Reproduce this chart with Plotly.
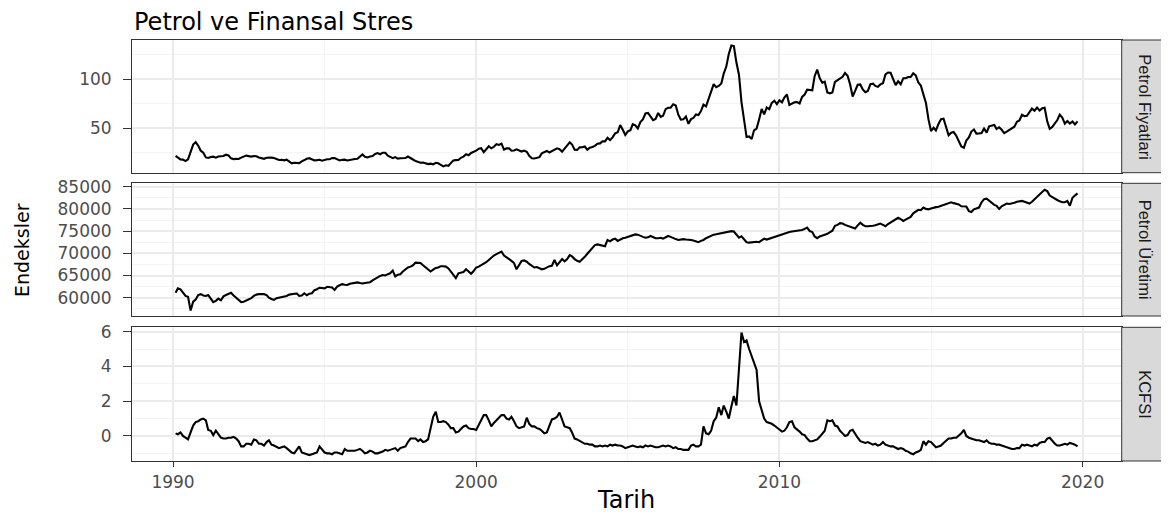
import pandas as pd
import plotly.graph_objects as go

# ---------------- data (monthly, Feb 1990 - Nov 2019) ----------------
start_month = "1990-02-01"
end_month = "2019-11-01"

petrol_fiyatlari = [
    22.11, 20.39, 18.43, 18.20, 16.70, 18.45, 27.31, 33.51, 36.04, 32.33, 27.28,            # 1990
    25.23, 20.48, 19.90, 20.83, 21.23, 20.19, 21.40, 21.69, 21.89, 23.23, 22.46, 19.50,     # 1991
    18.79, 19.01, 18.92, 20.23, 20.98, 22.39, 21.78, 21.34, 21.88, 21.69, 20.34, 19.41,     # 1992
    19.03, 20.09, 20.32, 20.25, 19.95, 19.09, 17.89, 18.01, 17.50, 18.15, 16.61, 14.52,     # 1993
    15.03, 14.78, 14.68, 16.42, 17.89, 19.06, 19.66, 18.38, 17.45, 17.72, 18.07, 17.16,     # 1994
    18.04, 18.57, 18.54, 19.90, 19.74, 18.45, 17.33, 18.02, 18.23, 17.43, 17.99, 19.03,     # 1995
    18.85, 19.09, 21.33, 23.50, 21.17, 20.42, 21.30, 21.90, 23.97, 24.88, 23.71, 25.23,     # 1996
    25.13, 22.18, 20.97, 19.70, 20.82, 19.26, 19.66, 19.95, 19.80, 21.33, 20.19, 18.33,     # 1997
    16.72, 16.06, 15.12, 15.35, 14.91, 13.72, 14.17, 13.47, 15.03, 14.46, 13.00, 11.35,     # 1998
    12.52, 12.01, 14.68, 17.31, 17.72, 17.92, 20.10, 21.28, 23.80, 22.69, 25.00, 26.10,     # 1999
    27.26, 29.37, 29.84, 25.72, 28.79, 31.82, 29.70, 31.26, 33.88, 33.11, 34.42, 28.44,     # 2000
    29.59, 29.61, 27.24, 27.49, 28.63, 27.60, 26.43, 27.37, 26.20, 22.17, 19.64, 19.39,     # 2001
    19.72, 20.72, 24.53, 26.18, 27.04, 25.52, 26.97, 28.39, 29.66, 28.84, 26.35, 29.46,     # 2002
    32.95, 35.83, 33.51, 28.17, 28.11, 30.66, 30.75, 31.57, 28.31, 30.34, 31.11, 32.13,     # 2003
    34.31, 34.69, 36.74, 36.75, 40.28, 38.03, 40.78, 44.90, 45.94, 53.28, 48.47, 43.15,     # 2004
    46.84, 48.15, 54.19, 52.98, 49.83, 56.35, 59.00, 64.99, 65.59, 62.26, 58.32, 59.41,     # 2005
    65.49, 61.63, 62.69, 69.44, 70.84, 70.95, 74.41, 73.04, 63.80, 58.89, 59.08, 61.96,     # 2006
    54.51, 59.28, 60.44, 63.98, 63.46, 67.49, 74.12, 72.36, 79.92, 85.80, 94.77, 91.69,     # 2007
    92.97, 95.39, 105.45, 112.58, 125.40, 133.88, 133.37, 116.67, 104.11, 76.61, 57.31, 41.12,  # 2008
    41.71, 39.09, 47.94, 49.65, 59.03, 69.64, 64.15, 71.05, 69.41, 75.72, 77.99, 74.47,     # 2009
    78.33, 76.39, 81.20, 84.29, 73.74, 75.34, 76.32, 76.60, 75.24, 81.89, 84.25, 89.15,     # 2010
    89.17, 88.58, 102.86, 109.53, 100.90, 96.26, 97.30, 86.33, 85.52, 86.32, 97.16, 98.56,  # 2011
    100.27, 102.20, 106.16, 103.32, 94.66, 82.30, 87.90, 94.13, 94.51, 89.49, 86.53, 87.86, # 2012
    94.76, 95.31, 92.94, 92.02, 94.51, 95.77, 104.67, 106.57, 106.29, 100.54, 93.86, 97.63, # 2013
    94.62, 100.82, 100.80, 102.07, 102.18, 105.79, 103.59, 96.54, 93.21, 84.40, 75.79, 59.29,  # 2014
    47.22, 50.58, 47.82, 54.45, 59.27, 59.82, 50.90, 42.87, 45.48, 46.22, 42.44, 37.19,     # 2015
    31.68, 30.32, 37.55, 40.75, 46.71, 48.76, 44.65, 44.72, 45.18, 49.78, 45.66, 51.97,     # 2016
    52.50, 53.47, 49.33, 51.06, 48.48, 45.18, 46.63, 48.04, 49.82, 51.58, 56.64, 57.88,     # 2017
    63.70, 62.23, 62.73, 66.25, 69.98, 67.87, 70.98, 68.06, 70.23, 70.75, 56.96, 49.52,     # 2018
    51.38, 54.95, 58.15, 63.86, 60.83, 54.66, 57.35, 54.81, 56.95, 53.96, 57.03,            # 2019
]

petrol_uretimi = [
    61100, 62100, 61900, 61100, 60400, 60200, 57100, 59100, 59600, 60600, 60800,           # 1990
    60500, 60400, 60600, 59700, 59000, 59300, 59800, 59400, 60300, 60600, 60800, 61100,    # 1991
    60500, 60000, 59700, 59000, 59100, 59400, 59700, 59900, 60400, 60700, 60800, 60800,    # 1992
    60800, 60600, 60000, 59700, 59500, 59900, 60000, 60100, 60200, 60400, 60700, 60850,    # 1993
    60900, 60950, 60400, 60500, 61000, 60550, 60900, 61000, 61700, 61900, 62250, 62200,    # 1994
    62100, 62450, 62400, 62300, 61750, 62500, 62800, 63050, 62900, 62850, 63150, 63250,    # 1995
    63300, 63450, 63300, 63200, 63300, 63400, 63500, 63900, 64300, 64700, 64900, 65100,    # 1996
    65000, 65300, 65500, 66100, 64800, 65200, 65300, 65900, 66400, 66800, 67000, 67300,    # 1997
    67900, 67900, 67800, 67300, 66900, 66300, 65900, 66300, 66700, 66800, 67100, 67100,    # 1998
    67000, 66600, 65900, 65200, 64400, 65500, 65700, 65800, 66400, 66000, 65400, 66000,    # 1999
    66800, 67000, 67300, 67700, 68000, 68500, 69100, 69500, 69800, 70100, 70400, 69500,    # 2000
    69000, 68700, 68300, 67800, 66400, 67500, 68300, 68400, 68100, 67600, 67200, 66800,    # 2001
    66900, 66700, 66400, 66500, 66800, 67100, 67200, 68500, 67300, 68000, 68700, 68200,    # 2002
    68700, 69600, 69300, 68700, 68300, 68100, 68600, 69200, 69900, 70600, 71300, 71850,    # 2003
    72000, 71900, 71800, 71600, 73000, 72700, 73100, 73300, 72800, 73100, 73400, 73500,    # 2004
    73700, 73900, 74100, 74250, 74200, 73900, 73700, 73500, 73600, 73900, 73700, 73400,    # 2005
    73400, 73500, 73300, 73600, 73900, 73700, 73400, 73200, 73000, 73100, 73200, 73100,    # 2006
    73100, 73000, 72900, 72700, 72500, 72800, 73000, 73400, 73700, 74000, 74200, 74300,    # 2007
    74400, 74500, 74600, 74700, 74800, 75000, 74900, 74200, 73500, 73800, 73200, 72500,    # 2008
    72400, 72500, 72600, 72600, 72500, 72900, 73300, 73100, 73300, 73500, 73700, 73900,    # 2009
    74200, 74400, 74500, 74700, 74800, 74900, 75000, 75000, 75150, 75250, 75500, 75800,    # 2010
    75000, 74800, 73800, 73400, 73800, 74100, 74200, 74400, 74800, 75100, 76200, 76400,    # 2011
    76800, 76700, 76400, 76200, 76100, 75800, 75600, 76300, 76900, 76400, 76100, 76100,    # 2012
    76100, 76200, 76300, 76500, 76700, 76400, 76100, 76600, 77000, 77400, 77700, 78000,    # 2013
    77700, 77300, 77600, 77900, 78200, 79000, 79500, 79800, 79700, 80300, 80000, 79900,    # 2014
    80100, 80300, 80400, 80500, 80700, 81000, 81200, 81400, 81500, 81300, 81200, 81000,    # 2015
    80600, 80500, 80550, 79500, 79300, 79900, 80100, 80300, 81500, 82200, 82300, 81800,    # 2016
    81300, 80900, 80700, 80000, 80600, 81000, 81200, 81100, 81200, 81400, 81600, 81700,    # 2017
    81800, 81600, 81400, 81200, 81600, 82200, 82700, 83200, 83800, 84300, 84000, 83000,    # 2018
    82600, 82300, 82000, 81700, 81500, 81500, 81800, 80700, 82500, 83000, 83500,           # 2019
]

kcfsi = [
    0.15, 0.10, 0.20, 0.00, -0.10, -0.20, 0.20, 0.60, 0.80, 0.85, 0.95,                    # 1990
    1.00, 0.90, 0.35, 0.30, 0.05, 0.30, 0.10, -0.10, -0.15, -0.15, -0.10, -0.10,           # 1991
    -0.05, -0.15, -0.30, -0.60, -0.60, -0.45, -0.45, -0.50, -0.20, -0.25, -0.45, -0.45,    # 1992
    -0.55, -0.35, -0.25, -0.50, -0.55, -0.65, -0.70, -0.65, -0.60, -0.70, -0.85, -0.95,    # 1993
    -1.00, -0.80, -0.60, -0.95, -1.00, -1.05, -1.10, -1.05, -1.00, -0.95, -0.60, -0.75,    # 1994
    -0.95, -1.00, -1.00, -1.05, -0.95, -0.95, -1.00, -1.05, -0.75, -0.85, -0.85, -0.85,    # 1995
    -0.85, -0.80, -0.75, -0.85, -1.00, -0.95, -0.85, -0.90, -1.00, -1.00, -0.95, -0.90,    # 1996
    -0.80, -0.85, -0.80, -0.75, -0.70, -0.85, -0.70, -0.65, -0.60, -0.35, -0.15, -0.15,    # 1997
    -0.15, -0.30, -0.20, -0.35, -0.30, -0.20, 0.50, 1.10, 1.40, 0.80, 0.80, 0.85,          # 1998
    0.80, 0.65, 0.45, 0.45, 0.20, 0.25, 0.40, 0.55, 0.60, 0.45, 0.40, 0.40,                # 1999
    0.35, 0.60, 0.90, 1.20, 1.20, 0.90, 0.55, 0.75, 0.90, 1.05, 1.20, 1.20,                # 2000
    1.00, 0.95, 1.10, 0.85, 0.55, 0.45, 0.50, 0.55, 1.05, 0.70, 0.55, 0.55,                # 2001
    0.45, 0.40, 0.30, 0.15, 0.20, 0.55, 0.95, 1.00, 1.10, 1.35, 0.95, 0.55,                # 2002
    0.50, 0.45, 0.20, -0.15, -0.20, -0.30, -0.35, -0.45, -0.45, -0.50, -0.50, -0.60,       # 2003
    -0.60, -0.55, -0.60, -0.55, -0.60, -0.50, -0.55, -0.50, -0.55, -0.55, -0.60, -0.70,    # 2004
    -0.65, -0.60, -0.55, -0.60, -0.65, -0.60, -0.65, -0.55, -0.60, -0.55, -0.60, -0.65,    # 2005
    -0.65, -0.60, -0.55, -0.60, -0.55, -0.60, -0.70, -0.65, -0.75, -0.75, -0.80, -0.80,    # 2006
    -0.80, -0.55, -0.50, -0.60, -0.60, -0.50, 0.55, 0.15, 0.10, 0.30, 0.85, 1.05,          # 2007
    1.65, 1.20, 1.75, 1.40, 1.00, 1.70, 2.30, 1.75, 4.20, 5.95, 5.40, 5.50,                # 2008
    5.00, 4.60, 4.30, 3.80, 2.00, 1.50, 1.00, 0.80, 0.75, 0.70, 0.60, 0.50,                # 2009
    0.35, 0.25, 0.30, 0.50, 0.80, 0.85, 0.50, 0.40, 0.25, 0.10, 0.05, -0.15,               # 2010
    -0.30, -0.30, -0.25, -0.20, -0.05, 0.10, 0.30, 0.90, 0.85, 0.90, 0.60, 0.55,           # 2011
    0.30, 0.15, 0.00, 0.05, 0.30, 0.35, 0.10, -0.10, -0.30, -0.35, -0.40, -0.35,           # 2012
    -0.45, -0.50, -0.45, -0.55, -0.50, -0.35, -0.50, -0.55, -0.60, -0.60, -0.70, -0.75,    # 2013
    -0.70, -0.75, -0.85, -0.90, -1.00, -1.05, -0.95, -0.90, -0.80, -0.30, -0.50, -0.30,    # 2014
    -0.35, -0.50, -0.65, -0.60, -0.55, -0.40, -0.30, -0.15, -0.15, -0.10, -0.10, 0.00,     # 2015
    0.15, 0.35, 0.00, -0.10, -0.15, -0.20, -0.25, -0.25, -0.30, -0.35, -0.25, -0.40,       # 2016
    -0.45, -0.45, -0.50, -0.50, -0.55, -0.60, -0.65, -0.70, -0.75, -0.75, -0.70, -0.70,    # 2017
    -0.50, -0.55, -0.50, -0.55, -0.60, -0.50, -0.55, -0.40, -0.35, -0.35, -0.15, -0.10,    # 2018
    -0.30, -0.45, -0.55, -0.55, -0.50, -0.45, -0.50, -0.40, -0.45, -0.50, -0.60,           # 2019
]

panel_names = ["Petrol Fiyatlari", "Petrol Üretimi", "KCFSI"]
series = [petrol_fiyatlari, petrol_uretimi, kcfsi]

y_ticks = [[50, 100],
           [60000, 65000, 70000, 75000, 80000, 85000],
           [0, 2, 4, 6]]
y_minor = [[25, 75, 125],
           [57500, 62500, 67500, 72500, 77500, 82500],
           [-1, 1, 3, 5]]
y_ranges = [[4.97, 139.55], [55880, 85766], [-1.44, 6.25]]

x_tick_years = [1990, 2000, 2010, 2020]
x_minor_years = [1995, 2005, 2015]

title_text = "Petrol ve Finansal Stres"
x_title = "Tarih"
y_title = "Endeksler"

# ---------------- figure ----------------
dates = pd.date_range(start_month, end_month, freq="MS")

# the page body has an 8px margin: build the figure 8px smaller and
# express every reference pixel position relative to that offset
OFF = 8
W, H = 1169 - OFF, 517 - OFF
ML, MR, MT = round(131.7 - OFF), 1, round(40 - OFF)
MB = H - round(461 - OFF)
plot_w = W - ML - MR
plot_h = H - MT - MB
x_dom_end = (1121.7 - OFF - ML) / plot_w

def px_x(xr):      # reference screen x -> paper x
    return (xr - OFF - ML) / plot_w

def px_y(yr):      # reference screen y -> paper y
    return (H - MB - (yr - OFF)) / plot_h

panel_px = [(40, 172.7), (183.3, 316), (327.3, 461)]
y_domains = [[max(0.0, px_y(b)), min(1.0, px_y(t))] for t, b in panel_px]

grid_major = "#EBEBEB"
grid_minor = "#F4F4F4"
border = "#333333"
tick_font = dict(family="DejaVu Sans", size=17, color="#4D4D4D")

fig = go.Figure()
layout = dict(
    width=W, height=H,
    margin=dict(l=ML, r=MR, t=MT, b=MB, pad=0),
    paper_bgcolor="white", plot_bgcolor="white",
    showlegend=False,
)

x_range = ["1988-08-25", "2021-04-16"]
tickvals_x = [f"{y}-01-01" for y in x_tick_years]
minor_x = [f"{y}-01-01" for y in x_minor_years]

for i, (name, vals) in enumerate(zip(panel_names, series)):
    k = "" if i == 0 else str(i + 1)
    fig.add_trace(go.Scatter(
        x=dates, y=vals, mode="lines",
        line=dict(color="black", width=2.1),
        xaxis="x" + k, yaxis="y" + k, name=name,
        hoverinfo="skip",
    ))
    bottom = (i == 2)
    layout["xaxis" + k] = dict(
        domain=[0, x_dom_end], anchor="y" + k, type="date",
        range=x_range,
        tickmode="array", tickvals=tickvals_x,
        ticktext=[str(y) for y in x_tick_years],
        showticklabels=bottom,
        ticks="outside" if bottom else "", ticklen=5, tickwidth=1, tickcolor=border,
        ticklabelstandoff=1,
        tickfont=tick_font,
        showgrid=True, gridcolor=grid_major, gridwidth=1.6,
        minor=dict(tickmode="array", tickvals=minor_x, showgrid=True,
                   gridcolor=grid_minor, gridwidth=1, ticks=""),
        showline=True, linecolor=border, linewidth=1, mirror=True,
        zeroline=False,
    )
    if not bottom:
        layout["xaxis" + k]["matches"] = "x3"
    layout["yaxis" + k] = dict(
        domain=y_domains[i], anchor="x" + k,
        range=y_ranges[i],
        tickmode="array", tickvals=y_ticks[i],
        ticktext=[str(v) for v in y_ticks[i]],
        ticks="outside", ticklen=8, tickwidth=1, tickcolor=border,
        ticklabelstandoff=8,
        tickfont=tick_font,
        showgrid=True, gridcolor=grid_major, gridwidth=1.6,
        minor=dict(tickmode="array", tickvals=y_minor[i], showgrid=True,
                   gridcolor=grid_minor, gridwidth=1, ticks=""),
        showline=True, linecolor=border, linewidth=1, mirror=True,
        zeroline=False,
    )

fig.update_layout(**layout)

# facet strips on the right
shapes = []
annotations = []
for i, name in enumerate(panel_names):
    y0, y1 = y_domains[i]
    shapes.append(dict(type="rect", xref="paper", yref="paper",
                       x0=x_dom_end, x1=1.0, y0=y0, y1=y1,
                       fillcolor="#D9D9D9", line=dict(color=border, width=1),
                       layer="above"))
    annotations.append(dict(text=name, xref="paper", yref="paper",
                            x=px_x(1145), y=(y0 + y1) / 2,
                            xanchor="center", yanchor="middle", showarrow=False,
                            textangle=90,
                            font=dict(family="Liberation Sans", size=16.5, color="#1A1A1A")))

# titles
annotations.append(dict(text=title_text, xref="paper", yref="paper",
                        x=0, y=px_y(22), xanchor="left", yanchor="middle",
                        showarrow=False,
                        font=dict(family="DejaVu Sans", size=24, color="black")))
annotations.append(dict(text=x_title, xref="paper", yref="paper",
                        x=px_x(625.5), y=px_y(500), xanchor="center", yanchor="middle",
                        showarrow=False,
                        font=dict(family="DejaVu Sans", size=24, color="black")))
annotations.append(dict(text=y_title, xref="paper", yref="paper",
                        x=px_x(22), y=px_y(250), xanchor="center", yanchor="middle",
                        textangle=-90, showarrow=False,
                        font=dict(family="DejaVu Sans", size=19, color="black")))

fig.update_layout(shapes=shapes, annotations=annotations)

fig.write_html("out.html")
